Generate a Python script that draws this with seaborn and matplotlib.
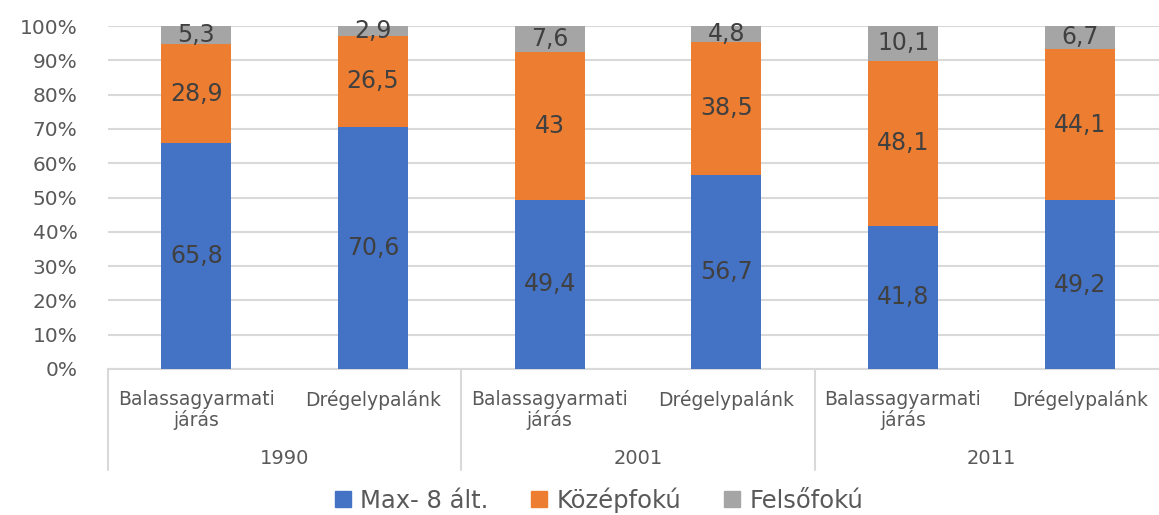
import matplotlib
matplotlib.use('Agg')
import matplotlib.pyplot as plt
import matplotlib.transforms as mtransforms
from matplotlib.lines import Line2D
import seaborn as sns
import pandas as pd
import numpy as np

# --- data ---
years = ['1990', '2001', '2011']
places = ['Balassagyarmati\njárás', 'Drégelypalánk']
series_names = ['Max- 8 ált.', 'Középfokú', 'Felsőfokú']
max8 = [65.8, 70.6, 49.4, 56.7, 41.8, 49.2]
kozep = [28.9, 26.5, 43.0, 38.5, 48.1, 44.1]
felso = [5.3, 2.9, 7.6, 4.8, 10.1, 6.7]

colors = ['#4472C4', '#ED7D31', '#A5A5A5']
text_col = '#595959'

sns.set_style('white')
plt.rcParams['font.family'] = ['DejaVu Sans']

bar_ids = [f'{y}|{p}' for y in years for p in places]
df = pd.DataFrame({'bar': bar_ids, 'max8': max8, 'kozep': kozep, 'felso': felso})
df['c1'] = df['max8']
df['c2'] = df['max8'] + df['kozep']
df['c3'] = df['c2'] + df['felso']

fig = plt.figure(figsize=(11.59, 5.15), dpi=100)
ax = fig.add_axes([108 / 1159, 1 - 369 / 515, (1168 - 108) / 1159, 343 / 515])

# cumulative layers, the tallest drawn first so the lower ones cover it
for col, c in zip(['c3', 'c2', 'c1'], colors[::-1]):
    sns.barplot(data=df, x='bar', y=col, color=c, width=0.395, ax=ax,
                saturation=1, errorbar=None, linewidth=0, zorder=3)

# segment labels
for i, row in df.iterrows():
    segs = [(0, row['max8']), (row['c1'], row['kozep']), (row['c2'], row['felso'])]
    for bottom, h in segs:
        txt = f'{h:g}'.replace('.', ',')
        ax.text(i, bottom + h / 2, txt, ha='center', va='center',
                fontsize=17, color='#404040', zorder=5)

ax.set_ylim(0, 100)
ax.set_xlim(-0.5, len(df) - 0.5)
ax.set_yticks(np.arange(0, 101, 10))
ax.set_yticklabels([f'{v}%' for v in range(0, 101, 10)])
ax.yaxis.grid(True, color='#D9D9D9', linewidth=1.5, zorder=0)
ax.set_axisbelow(True)
ax.tick_params(axis='y', length=0, pad=22, labelsize=14.5, labelcolor=text_col)
ax.set_xticks(range(len(df)))
ax.set_xticklabels(places * len(years))
ax.tick_params(axis='x', length=0, pad=15, labelsize=13.5, labelcolor=text_col)
for lab in ax.get_xticklabels():
    lab.set_linespacing(1.05)
ax.set_xlabel('')
ax.set_ylabel('')
for s in ['top', 'right', 'left']:
    ax.spines[s].set_visible(False)
ax.spines['bottom'].set_color('#D9D9D9')
ax.spines['bottom'].set_linewidth(1.5)

# group labels and separators under the axis
trans = mtransforms.blended_transform_factory(ax.transData, ax.transAxes)
sep_bottom = -(470 - 369) / 343
for g, y in enumerate(years):
    ax.text(g * 2 + 0.5, -(458 - 369) / 343, y, transform=trans, ha='center',
            va='center', fontsize=14, color=text_col)
for xs in [-0.5, 1.5, 3.5]:
    ax.plot([xs, xs], [0, sep_bottom], transform=trans, color='#D9D9D9',
            linewidth=1.5, clip_on=False)

handles = [Line2D([], [], marker='s', linestyle='', markersize=11,
                  markerfacecolor=c, markeredgecolor=c) for c in colors]
fig.legend(handles, series_names, loc='center', bbox_to_anchor=(0.515, 1 - 500 / 515),
           ncol=3, frameon=False, fontsize=17.5, labelcolor=text_col,
           handletextpad=0.2, handlelength=1.0, columnspacing=1.6)

fig.savefig('out.png', dpi=100)
